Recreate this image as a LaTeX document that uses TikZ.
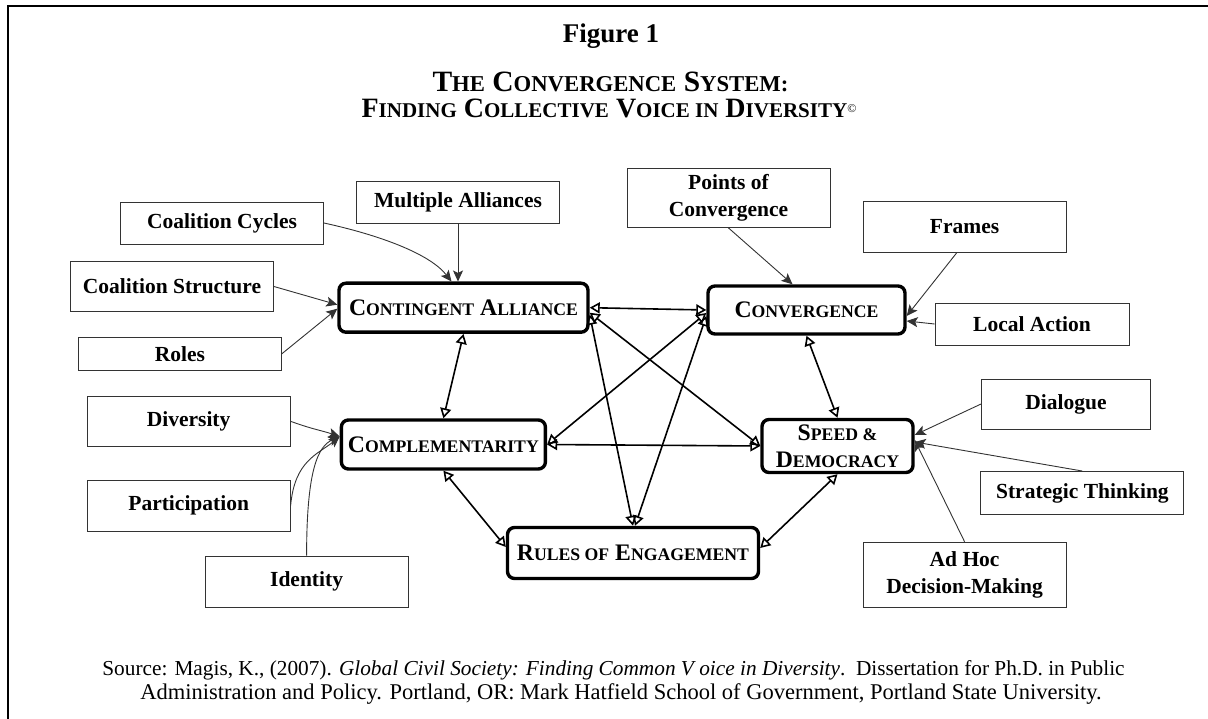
\documentclass[tikz,border=0pt]{standalone}
\usepackage{fontspec}
\setmainfont{Liberation Serif}
\usetikzlibrary{arrows.meta}
\definecolor{inkgray}{HTML}{333333}
\newcommand{\lowcaps}[1]{{\fontsize{17.7pt}{20pt}\selectfont #1}}
\newcommand{\titlecaps}[1]{{\fontsize{21pt}{24pt}\selectfont #1}}
\newcommand{\wtitlecaps}[1]{{\fontsize{22.7pt}{24pt}\selectfont #1}}
\begin{document}
\begin{tikzpicture}[x=1pt,y=-1pt,
	factor/.style={draw=inkgray,line width=0.9pt,inner sep=0pt,align=center,
		minimum width=203pt,font=\fontsize{21.5pt}{26.7pt}\selectfont\bfseries},
	core/.style={draw,line width=3.4pt,rounded corners=7pt,inner sep=0pt,align=center,
		font=\fontsize{23.7pt}{27pt}\selectfont\bfseries},
	feed/.style={draw=inkgray,line width=0.9pt,-{Stealth[length=11pt,width=10pt,inset=2.5pt]}},
	link/.style={line width=1.6pt,{Triangle[open,length=10pt,width=11pt]}-{Triangle[open,length=10pt,width=11pt]}}]
	\useasboundingbox (0,0) rectangle (1208,719);
	\draw[line width=2pt] (8,719) -- (8,6.5) -- (1208,6.5);
	% title
	\node[anchor=base,font=\fontsize{27pt}{30pt}\selectfont\bfseries] (fig) at (611,43) {Figure 1};
	\node[anchor=base,font=\fontsize{29.5pt}{30pt}\selectfont\bfseries] (titleA) at (610.5,91.7)
		{T\wtitlecaps{HE} C\wtitlecaps{ONVERGENCE} S\wtitlecaps{YSTEM:}};
	\node[anchor=base,font=\fontsize{28pt}{30pt}\selectfont\bfseries] (titleB) at (609,117.3)
		{F\titlecaps{INDING} C\titlecaps{OLLECTIVE} V\titlecaps{OICE IN} D\titlecaps{IVERSITY}\raisebox{5pt}{\fontsize{12pt}{12pt}\selectfont\mdseries ©}};
	% core elements
	\node[core,minimum width=249pt,minimum height=49pt] (alliance) at (463.5,307.7) {C\lowcaps{ONTINGENT} A\lowcaps{LLIANCE}};
	\node[core,minimum width=197pt,minimum height=48pt] (convergence) at (806.5,310) {C\lowcaps{ONVERGENCE}};
	\node[core,minimum width=204pt,minimum height=49pt] (complement) at (443.4,444.5) {C\lowcaps{OMPLEMENTARITY}};
	\node[core,minimum width=151pt,minimum height=53pt] (speed) at (837.5,446) {S\lowcaps{PEED \&}\\D\lowcaps{EMOCRACY}};
	\node[core,minimum width=251pt,minimum height=51pt] (rules) at (633,553) {R\lowcaps{ULES OF} E\lowcaps{NGAGEMENT}};
	% factors
	\node[factor,minimum height=42pt] (cycles) at (222,223) {Coalition Cycles};
	\node[factor,minimum height=42pt] (multiple) at (458,202) {Multiple Alliances};
	\node[factor,minimum height=50pt] (structure) at (172,286.5) {Coalition Structure};
	\node[factor,minimum height=33pt] (roles) at (180,353.7) {Roles};
	\node[factor,minimum height=50pt] (diversity) at (188.6,421.3) {Diversity};
	\node[factor,minimum height=51pt] (participation) at (188.7,505.5) {Participation};
	\node[factor,minimum height=51pt] (identity) at (306.6,581.5) {Identity};
	\node[factor,minimum height=59pt] (points) at (728.5,198) {Points of\\Convergence};
	\node[factor,minimum height=51pt] (frames) at (964.6,227) {Frames};
	\node[factor,minimum width=194pt,minimum height=42pt] (local) at (1032,324) {Local Action};
	\node[factor,minimum width=169pt,minimum height=50pt] (dialogue) at (1066,404) {Dialogue};
	\node[factor,minimum height=43pt] (strategic) at (1082.4,493) {Strategic Thinking};
	\node[factor,minimum height=65pt] (adhoc) at (964.6,574.7) {Ad Hoc\\Decision-Making};
	% factor arrows
	\draw[feed] (cycles.east) .. controls +(55,12) and +(-22,-28) .. ([xshift=-12pt]alliance.north);
	\draw[feed] (multiple.south) -- (multiple.south |- alliance.north);
	\draw[feed] (structure.east) -- ([yshift=3pt]alliance.west);
	\draw[feed] (roles.east) -- ([yshift=-1pt]alliance.west);
	\draw[feed] (points.south) -- ([xshift=-14pt]convergence.north);
	\draw[feed] ([xshift=-8pt]frames.south) -- ([yshift=-6pt]convergence.east);
	\draw[feed] (local.west) -- ([yshift=-11pt]convergence.east);
	\draw[feed] (diversity.east) .. controls +(22,8) and +(-18,-6) .. ([yshift=8pt]complement.west);
	\draw[feed] (participation.east) .. controls +(4,-45) and +(-22,18) .. ([yshift=8pt]complement.west);
	\draw[feed] (identity.north) .. controls +(0,-85) and +(-22,10) .. ([yshift=8pt]complement.west);
	\draw[feed] (dialogue.west) -- ([yshift=11pt]speed.east);
	\draw[feed] (strategic.north) -- ([yshift=4pt]speed.east);
	\draw[feed] (adhoc.north) -- ([yshift=6pt]speed.east);
	% links between core elements
	\draw[link] (alliance.south) -- (complement.north);
	\draw[link] (alliance.east) -- (convergence.west);
	\draw[link] ([yshift=-5pt]alliance.east) -- (speed.west);
	\draw[link] ([yshift=-7pt]alliance.east) -- (rules.north);
	\draw[link] ([yshift=-3pt]convergence.west) -- (complement.east);
	\draw[link] ([yshift=-6pt]convergence.west) -- ([xshift=2pt]rules.north);
	\draw[link] (convergence.south) -- (speed.north);
	\draw[link] (complement.east) -- (speed.west);
	\draw[link] (complement.south) -- ([yshift=6pt]rules.west);
	\draw[link] (speed.south) -- ([yshift=5pt]rules.east);
	% source
	\node[anchor=base,font=\fontsize{21.3pt}{24pt}\selectfont] (src1) at (613.5,675)
		{Source: Magis, K., (2007). \textit{Global Civil Society: Finding Common V oice in Diversity}.\ \ Dissertation for Ph.D. in Public};
	\node[anchor=base,font=\fontsize{22.5pt}{24pt}\selectfont] (src2) at (621,699)
		{Administration and Policy. Portland, OR: Mark Hatfield School of Government, Portland State University.};
\end{tikzpicture}
\end{document}
